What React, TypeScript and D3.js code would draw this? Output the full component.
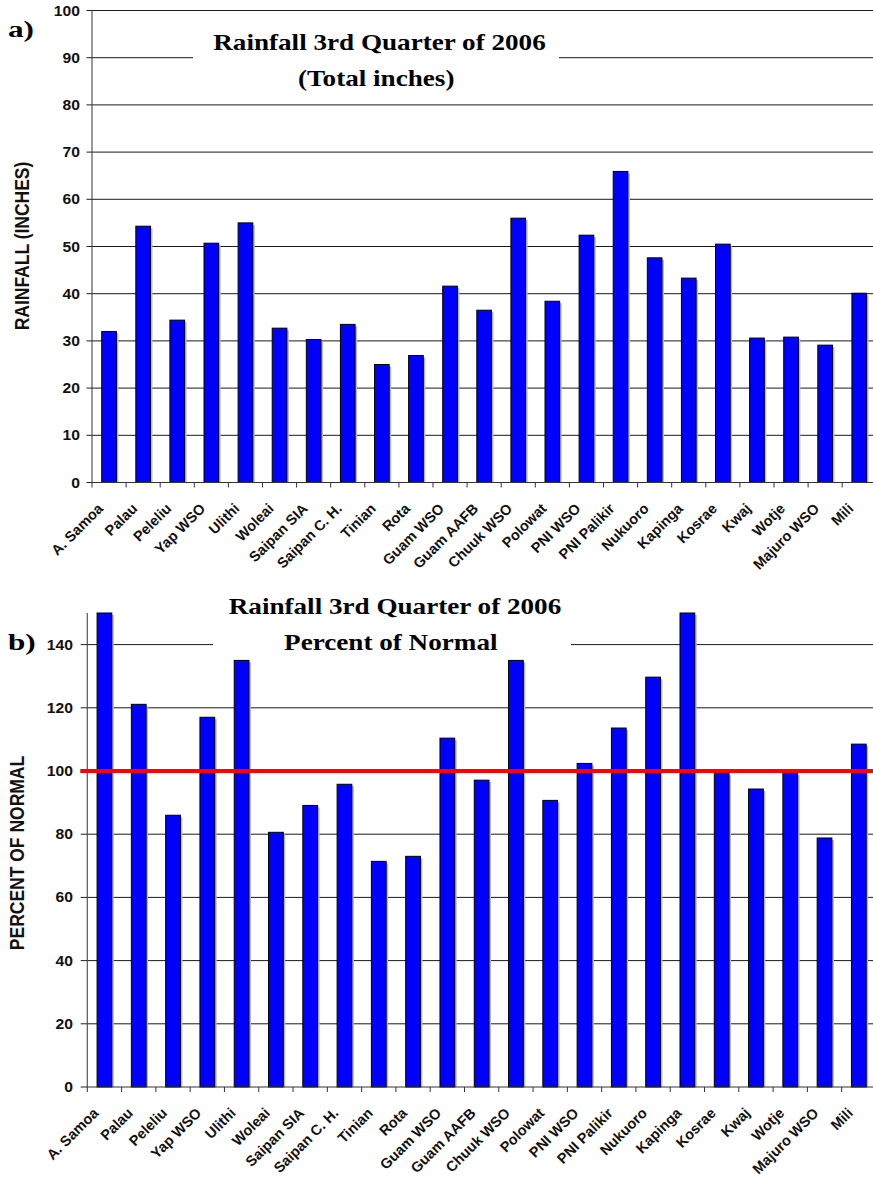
import React from "react";
import * as d3 from "d3";

const stations = [
  "A. Samoa", "Palau", "Peleliu", "Yap WSO", "Ulithi", "Woleai", "Saipan SIA",
  "Saipan C. H.", "Tinian", "Rota", "Guam WSO", "Guam AAFB", "Chuuk WSO",
  "Polowat", "PNI WSO", "PNI Palikir", "Nukuoro", "Kapinga", "Kosrae", "Kwaj",
  "Wotje", "Majuro WSO", "Mili",
];

const rainfallInches = [
  32.0, 54.3, 34.4, 50.7, 55.0, 32.7, 30.3, 33.5, 25.0, 26.9, 41.6, 36.5, 56.0,
  38.4, 52.4, 65.9, 47.6, 43.3, 50.5, 30.6, 30.8, 29.1, 40.1,
];

const percentOfNormal = [
  150, 121.1, 86.0, 117.0, 135.0, 80.6, 89.1, 95.8, 71.4, 73.0, 110.4, 97.1, 135.0,
  90.7, 102.4, 113.6, 129.7, 150, 99.3, 94.3, 99.3, 78.8, 108.5,
];

const ticksTop = [0, 10, 20, 30, 40, 50, 60, 70, 80, 90, 100];
const ticksBottom = [0, 20, 40, 60, 80, 100, 120, 140];
const normalLine = 100;

const titleA = ["Rainfall 3rd Quarter of 2006", "(Total inches)"];
const titleB = ["Rainfall 3rd Quarter of 2006", "Percent of Normal"];

const SANS = "'Liberation Sans', Arial, sans-serif";
const SERIF = "'Liberation Serif', 'Times New Roman', serif";
const W = 873;
const H = 1184;

type PanelProps = {
  values: number[];
  domainMax: number;
  ticks: number[];
  y0: number;
  y1: number;
  x0: number;
  step: number;
  tickLen: number;
  labelRight: number;
  yLabel: string;
  yLabelX: number;
  yLabelY: number;
  letter: string;
  letterY: number;
  titles: string[];
  titleCx: number[];
  titleY: number[];
  box: { x: number; y: number; w: number; h: number };
  gridTicks: number[];
  refLine?: number;
};

function Panel(p: PanelProps) {
  const x = d3
    .scaleBand<string>()
    .domain(stations)
    .range([p.x0, p.x0 + p.step * stations.length])
    .padding(0);
  const y = d3.scaleLinear().domain([0, p.domainMax]).range([p.y0, p.y1]);
  const bw = x.bandwidth() * 0.43;
  const right = W;
  const sx = 1.12;
  return (
    <g>
      {p.gridTicks.map((t) => (
        <line
          key={"g" + t}
          x1={x.range()[0]}
          x2={right}
          y1={y(t)}
          y2={y(t)}
          stroke="#1a1a1a"
          strokeWidth={1}
        />
      ))}
      <rect x={p.box.x} y={p.box.y} width={p.box.w} height={p.box.h} fill="#fff" />
      {p.titles.map((t, i) => (
        <text
          key={"t" + i}
          transform={`translate(${p.titleCx[i]},${p.titleY[i]}) scale(1.18,1)`}
          textAnchor="middle"
          fontFamily={SERIF}
          fontWeight="bold"
          fontSize={23}
          fill="#000"
        >
          {t}
        </text>
      ))}
      {p.values.map((v, i) => {
        const cx = (x(stations[i]) as number) + x.bandwidth() / 2;
        const top = y(Math.min(v, p.domainMax));
        return (
          <g key={"b" + i}>
            <rect
              x={cx - bw / 2 + 2}
              y={top + 2}
              width={bw}
              height={p.y0 - top - 2}
              fill="#b8b8b8"
            />
            <rect
              x={cx - bw / 2}
              y={top}
              width={bw}
              height={p.y0 - top}
              fill="#0000ff"
              stroke="#000"
              strokeWidth={1}
            />
          </g>
        );
      })}
      <line
        x1={x.range()[0]}
        x2={x.range()[0]}
        y1={y(p.domainMax)}
        y2={p.y0}
        stroke="#555"
        strokeWidth={1.2}
      />
      {p.ticks.map((t) => (
        <g key={"yt" + t}>
          <line
            x1={x.range()[0] - p.tickLen}
            x2={x.range()[0]}
            y1={y(t)}
            y2={y(t)}
            stroke="#222"
            strokeWidth={1}
          />
          <text
            transform={`translate(${p.labelRight},${y(t) + 5}) scale(${sx},1)`}
            textAnchor="end"
            fontFamily={SANS}
            fontWeight="bold"
            fontSize={14}
            fill="#111"
          >
            {t}
          </text>
        </g>
      ))}
      <line
        x1={x.range()[0]}
        x2={right}
        y1={p.y0}
        y2={p.y0}
        stroke="#333"
        strokeWidth={1.2}
      />
      {stations.map((s, i) => (
        <line
          key={"xt" + i}
          x1={x(s) as number}
          x2={x(s) as number}
          y1={p.y0}
          y2={p.y0 + 5}
          stroke="#333"
          strokeWidth={1}
        />
      ))}
      {stations.map((s, i) => {
        const cx = (x(s) as number) + x.bandwidth() / 2;
        return (
          <text
            key={"xl" + i}
            transform={`translate(${cx - 5},${p.y0 + 27}) rotate(-45)`}
            textAnchor="end"
            fontFamily={SANS}
            fontWeight="bold"
            fontSize={14.5}
            fill="#111"
          >
            {s}
          </text>
        );
      })}
      {p.refLine !== undefined && (
        <line
          x1={x.range()[0] - 7}
          x2={right}
          y1={y(p.refLine)}
          y2={y(p.refLine)}
          stroke="#ff0000"
          strokeWidth={4}
        />
      )}
      <text
        transform={`translate(${p.yLabelX},${p.yLabelY}) scale(1.12,1) rotate(-90)`}
        textAnchor="middle"
        fontFamily={SANS}
        fontWeight="bold"
        fontSize={17.5}
        fill="#111"
      >
        {p.yLabel}
      </text>
      <text
        transform={`translate(8,${p.letterY}) scale(1.3,1)`}
        fontFamily={SERIF}
        fontWeight="bold"
        fontSize={24}
        fill="#000"
      >
        {p.letter}
      </text>
    </g>
  );
}

export default function App() {
  return (
    <svg
      width={W}
      height={H}
      viewBox={`0 0 ${W} ${H}`}
      style={{ position: "absolute", left: 0, top: 0, background: "#fff" }}
    >
      <rect x={0} y={0} width={W} height={H} fill="#fff" />
      <Panel
        values={rainfallInches}
        domainMax={100}
        ticks={ticksTop}
        gridTicks={ticksTop.filter((t) => t > 0)}
        y0={482.5}
        y1={10.5}
        x0={92}
        step={34.1}
        tickLen={5.5}
        labelRight={80}
        yLabel="RAINFALL (INCHES)"
        yLabelX={29}
        yLabelY={246}
        letter="a)"
        letterY={37}
        titles={titleA}
        titleCx={[379.5, 376.2]}
        titleY={[50, 86]}
        box={{ x: 193, y: 20, w: 366, h: 76 }}
      />
      <Panel
        values={percentOfNormal}
        domainMax={150}
        ticks={ticksBottom}
        gridTicks={ticksBottom.filter((t) => t > 0)}
        y0={1087}
        y1={613}
        x0={87.3}
        step={34.29}
        tickLen={6.6}
        labelRight={73}
        yLabel="PERCENT OF NORMAL"
        yLabelX={23.5}
        yLabelY={853}
        letter="b)"
        letterY={650}
        titles={titleB}
        titleCx={[395, 390.8]}
        titleY={[614, 650]}
        box={{ x: 213, y: 598, w: 358, h: 56 }}
        refLine={normalLine}
      />
    </svg>
  );
}
